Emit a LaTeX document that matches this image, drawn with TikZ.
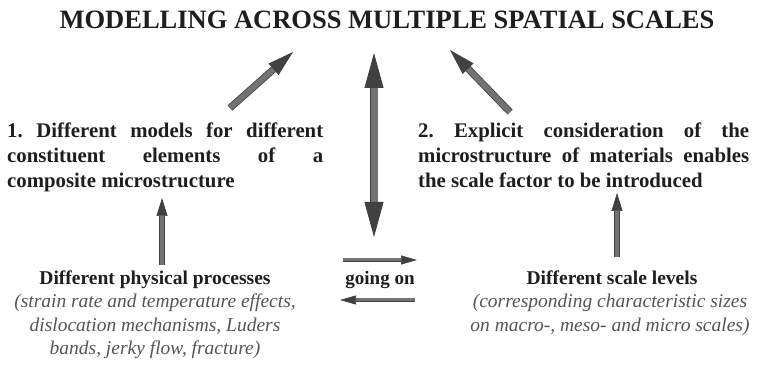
\documentclass[tikz,border=0pt]{standalone}
\usepackage{fontspec}
\setmainfont{Liberation Serif}
\usepackage{xcolor}
\usetikzlibrary{arrows.meta, positioning}
\definecolor{flecha}{RGB}{115,115,115}
\definecolor{borde}{RGB}{65,65,65}
\definecolor{tinta}{RGB}{30,30,30}
\definecolor{gris}{RGB}{85,85,85}

\begin{document}
\begin{tikzpicture}[
  x=1pt, y=1pt,
  block/.style={inner sep=0pt, anchor=north west, align=justify, text=tinta,
                font=\bfseries\fontsize{20.8}{25}\selectfont\frenchspacing},
  lowbox/.style={inner sep=0pt, anchor=north, align=center, text=gris,
                 font=\itshape\fontsize{19.5}{23.5}\selectfont},
  lowhead/.style={inner sep=0pt, anchor=base, text=tinta,
                  font=\bfseries\fontsize{19.5}{23}\selectfont},
  bigarr/.style={draw=borde, line width=0.8pt, double=flecha, double distance=5.5pt,
                 -{Triangle[length=26pt, width=15pt]}},
  dblarr/.style={draw=borde, line width=0.9pt, double=flecha, double distance=7pt,
                 {Triangle[length=35pt, width=19pt]}-{Triangle[length=35pt, width=19pt]}},
  midarr/.style={draw=borde, line width=0.7pt, double=flecha, double distance=4.2pt,
                 -{Triangle[length=18pt, width=11pt]}},
  smlarr/.style={draw=borde, line width=0.6pt, double=flecha, double distance=3pt,
                 -{Triangle[length=16pt, width=9pt]}}
]
  \useasboundingbox (0,0) rectangle (760,369);

  % texts
  \node[inner sep=0pt, anchor=base, text=tinta, font=\bfseries\fontsize{26.5}{30}\selectfont]
    (ttl) at (387,340) {MODELLING ACROSS MULTIPLE SPATIAL SCALES};
  \node[block, text width=316pt] (mdl) at (7,246)
    {1. Different models for different\linebreak constituent elements of a\linebreak composite microstructure};
  \node[block, text width=331pt] (mcs) at (418,246)
    {2. Explicit consideration of the\linebreak microstructure of materials enables\linebreak the scale factor to be introduced};
  \node[lowhead] (phys) at (155,84) {Different physical processes};
  \node[lowbox] (physx) at (155,75)
    {(strain rate and temperature effects,\\ dislocation mechanisms, Luders\\ bands, jerky flow, fracture)};
  \node[lowhead] (scal) at (612,84) {Different scale levels};
  \node[lowbox] (scalx) at (610,75)
    {(corresponding characteristic sizes\\ on macro-, meso- and micro scales)};
  \node[inner sep=0pt, text=tinta, font=\bfseries\fontsize{19}{22}\selectfont]
    (going) at (380,89) {going on};

  % arrow ends
  \coordinate (la) at (230,261);
  \coordinate (lb) at (293,317);
  \coordinate (ra) at (510,257);
  \coordinate (rb) at (450,319);
  \coordinate (ca) at (374,316);
  \coordinate (cb) at (374,132);
  \coordinate (pa) at (162,104);
  \coordinate (pb) at (162,171);
  \coordinate (sa) at (617,112);
  \coordinate (sb) at (617,176);
  \coordinate (ga) at (343,109);
  \coordinate (gb) at (417,109);
  \coordinate (gc) at (415,69);
  \coordinate (gd) at (340,69);

  \draw[bigarr] (la) -- (lb);
  \draw[bigarr] (ra) -- (rb);
  \draw[dblarr] (ca) -- (cb);
  \draw[midarr] (pa) -- (pb);
  \draw[midarr] (sa) -- (sb);
  \draw[smlarr] (ga) -- (gb);
  \draw[smlarr] (gc) -- (gd);
\end{tikzpicture}
\end{document}
